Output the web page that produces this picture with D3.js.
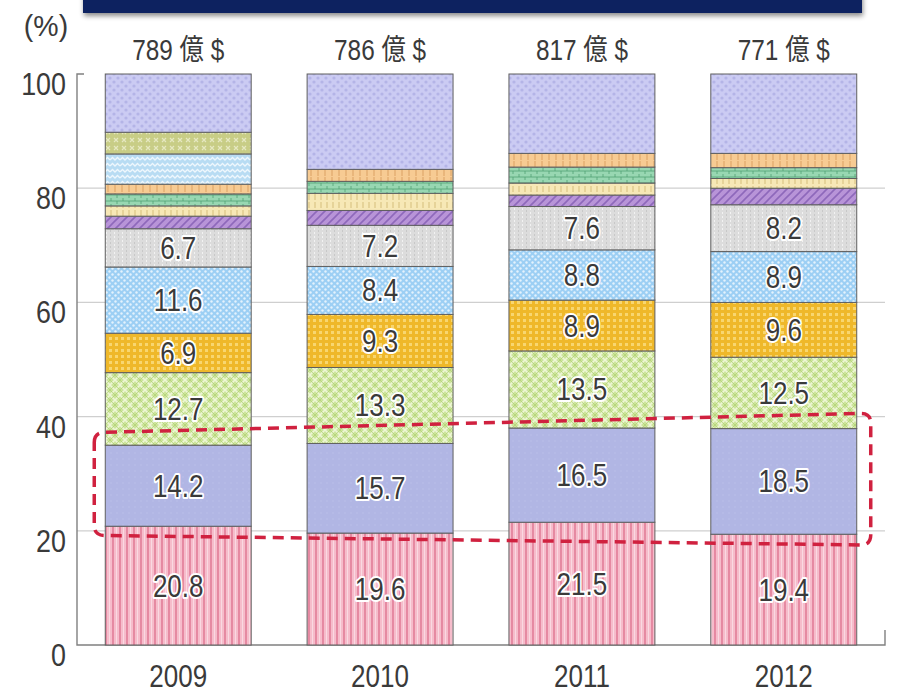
<!DOCTYPE html>
<meta charset="utf-8">
<head>
    <title></title>
    <script src="https://cdn.jsdelivr.net/npm/d3@7"></script>
</head>
<style>
    body{ margin:0; background:#fff; }
    text{
      font-family: "Liberation Sans", "Noto Sans CJK JP", sans-serif;
      fill:#3a3a3a;
    }
</style>
<svg width="897" height="693"></svg>
<script>
    // data (share in %, bottom to top)
    var years = ['2009','2010','2011','2012'];
    var totals = ['789 億 $','786 億 $','817 億 $','771 億 $'];
    var yTicks = [0,20,40,60,80,100];

    var pink       = [20.8,19.6,21.5,19.4];
    var periwinkle = [14.2,15.7,16.5,18.5];
    var green      = [12.7,13.3,13.5,12.5];
    var gold       = [6.9,9.3,8.9,9.6];
    var skyBlue    = [11.6,8.4,8.8,8.9];
    var grey       = [6.7,7.2,7.6,8.2];
    var purple     = [2.2,2.6,2.0,2.9];
    var cream      = [1.8,3.0,2.1,1.7];
    var mint       = [2.1,2.1,2.8,1.9];
    var peach      = [1.7,2.1,2.4,2.5];
    var wavyBlue   = [5.3,0,0,0];
    var olive      = [3.8,0,0,0];
    var lavender   = [10.2,16.7,13.9,13.9];

    // dashed highlight box (values at left / right end)
    var boxTop = [37.2,40.6],
        boxBottom = [19.2,17.5];

    var series = [
        {key:'pink', values:pink, label:true},
        {key:'periwinkle', values:periwinkle, label:true},
        {key:'green', values:green, label:true},
        {key:'gold', values:gold, label:true},
        {key:'skyBlue', values:skyBlue, label:true},
        {key:'grey', values:grey, label:true},
        {key:'purple', values:purple},
        {key:'cream', values:cream},
        {key:'mint', values:mint},
        {key:'peach', values:peach},
        {key:'wavyBlue', values:wavyBlue},
        {key:'olive', values:olive},
        {key:'lavender', values:lavender}
    ];

    var table = years.map(function(y,i){
        var row = {year:y};
        series.forEach(function(s){ row[s.key] = s.values[i]; });
        return row;
    });

    var svg = d3.select('svg');
    var defs = svg.append('defs');
    var narrow = 0.84;   // condensed look of the original font

    function place(px, py){ return 'translate(' + px + ',' + py + ') scale(' + narrow + ',1)'; }

    // fill patterns
    function pat(id, w, h, bg, draw){
        var p = defs.append('pattern').attr('id', id)
            .attr('patternUnits','userSpaceOnUse').attr('width', w).attr('height', h);
        p.append('rect').attr('width', w).attr('height', h).attr('fill', bg);
        draw(p);
    }
    pat('pink', 7, 10, '#f6bccb', function(p){
        p.append('line').attr('x1',1).attr('x2',1).attr('y1',0).attr('y2',10).attr('stroke','#df7491').attr('stroke-width',1.4);
        p.append('line').attr('x1',4.5).attr('x2',4.5).attr('y1',0).attr('y2',10).attr('stroke','#fbe1e8').attr('stroke-width',0.8);
    });
    pat('periwinkle', 6, 6, '#b1b6e4', function(p){
        p.append('circle').attr('cx',3).attr('cy',3).attr('r',0.8).attr('fill','#bbc0ea');
    });
    pat('green', 10, 10, '#cde59c', function(p){
        p.append('path').attr('d','M0,5 L5,0 L10,5 L5,10 Z').attr('fill','none').attr('stroke','#eef6d6').attr('stroke-width',1.6);
        p.append('path').attr('d','M0,0 L10,10 M10,0 L0,10').attr('stroke','#a8cc68').attr('stroke-width',0.6);
    });
    pat('gold', 6, 6, '#efb82a', function(p){
        p.append('rect').attr('x',1).attr('y',1).attr('width',3).attr('height',3).attr('fill','#f8d670');
    });
    pat('skyBlue', 6, 6, '#9ccff4', function(p){
        p.append('circle').attr('cx',1.5).attr('cy',1.5).attr('r',1.2).attr('fill','#e3f2fd');
        p.append('circle').attr('cx',4.5).attr('cy',4.5).attr('r',1.2).attr('fill','#e3f2fd');
    });
    pat('grey', 8, 4, '#dcdcdc', function(p){
        p.append('rect').attr('x',2).attr('y',0).attr('width',1).attr('height',2).attr('fill','#f2f2f2');
        p.append('rect').attr('x',6).attr('y',2).attr('width',1).attr('height',2).attr('fill','#c8c8c8');
    });
    pat('purple', 8, 8, '#b894d8', function(p){
        p.append('path').attr('d','M-2,10 L10,-2 M-2,2 L2,-2 M6,10 L10,6').attr('stroke','#8e68bb').attr('stroke-width',1.6);
    });
    pat('cream', 6, 8, '#f7e8b6', function(p){
        p.append('line').attr('x1',3).attr('x2',3).attr('y1',2).attr('y2',8).attr('stroke','#d6bf7c').attr('stroke-width',1);
    });
    pat('mint', 12, 6, '#98d7b2', function(p){
        p.append('path').attr('d','M0,3 H12 M3,0 V3 M9,3 V6').attr('stroke','#4f9f73').attr('stroke-width',0.8);
    });
    pat('peach', 7, 8, '#f7cb93', function(p){
        p.append('line').attr('x1',3).attr('x2',3).attr('y1',1).attr('y2',8).attr('stroke','#dca263').attr('stroke-width',1);
    });
    pat('wavyBlue', 10, 6, '#b8dcf3', function(p){
        p.append('path').attr('d','M0,4 L2.5,1.5 L5,4 L7.5,1.5 L10,4').attr('fill','none').attr('stroke','#eef7fd').attr('stroke-width',1.4);
    });
    pat('olive', 8, 8, '#c8cd86', function(p){
        p.append('path').attr('d','M2,2 L6,6 M6,2 L2,6').attr('stroke','#e6e8c1').attr('stroke-width',1.2);
    });
    pat('lavender', 8, 8, '#cbcbf3', function(p){
        p.append('circle').attr('cx',2).attr('cy',2).attr('r',1.6).attr('fill','#b4b4e7');
        p.append('circle').attr('cx',6).attr('cy',6).attr('r',1.6).attr('fill','#b4b4e7');
    });

    var shadow = defs.append('filter').attr('id','shadow').attr('x','-5%').attr('y','-50%').attr('width','110%').attr('height','250%');
    shadow.append('feDropShadow').attr('dx',1).attr('dy',3).attr('stdDeviation',2.5).attr('flood-color','#000').attr('flood-opacity',0.45);

    var x = d3.scaleBand().domain(years).range([77,885]).paddingInner(0.277).paddingOuter(0.14);
    var y = d3.scaleLinear().domain([0,100]).range([645,74]);

    // title banner (cut off at top)
    svg.append('rect').attr('x',83).attr('y',-10).attr('width',779).attr('height',23)
        .attr('fill','#0c2361').attr('filter','url(#shadow)');

    // grid
    svg.append('g').selectAll('line').data(yTicks.filter(function(d){ return d > 0 && d < 100; }))
        .enter().append('line')
        .attr('x1',77).attr('x2',885)
        .attr('y1',function(d){ return y(d); }).attr('y2',function(d){ return y(d); })
        .attr('stroke','#cfcfcf').attr('stroke-width',1.2);

    // axes
    svg.append('path').attr('d','M84,'+y(100)+' H77 V'+y(0)+' H885 V'+(y(0)-15))
        .attr('fill','none').attr('stroke','#808080').attr('stroke-width',1.4);

    svg.append('g').selectAll('text').data(yTicks).enter().append('text')
        .attr('transform',function(d){ return place(66, y(d) + 21); })
        .attr('text-anchor','end')
        .style('font-size','32px')
        .text(function(d){ return d; });

    svg.append('text').attr('transform','translate(46,36) scale(0.95,1)')
        .attr('text-anchor','middle').style('font-size','30px').text('(%)');

    svg.append('g').selectAll('text').data(years).enter().append('text')
        .attr('transform',function(d){ return place(x(d) + x.bandwidth()/2, 687); })
        .attr('text-anchor','middle').style('font-size','31px')
        .text(function(d){ return d; });

    svg.append('g').selectAll('text').data(totals).enter().append('text')
        .attr('transform',function(d,i){ return place(x(years[i]) + x.bandwidth()/2, 60); })
        .attr('text-anchor','middle').style('font-size','29px')
        .text(function(d){ return d; });

    // stacked bars
    var stack = d3.stack().keys(series.map(function(s){ return s.key; }));
    var layers = stack(table);

    var layerG = svg.append('g').selectAll('g').data(layers).enter().append('g')
        .attr('fill',function(d){ return 'url(#' + d.key + ')'; });

    layerG.selectAll('rect').data(function(d){ return d.filter(function(v){ return v[1] - v[0] > 0; }); })
        .enter().append('rect')
        .attr('x',function(d){ return x(d.data.year); })
        .attr('width',x.bandwidth())
        .attr('y',function(d){ return y(d[1]); })
        .attr('height',function(d){ return y(d[0]) - y(d[1]); })
        .attr('stroke','#5f5f5f').attr('stroke-width',1);

    // value labels
    var fmt = d3.format('.1f');
    var labelled = layers.filter(function(l,i){ return series[i].label; });
    svg.append('g').selectAll('g').data(labelled).enter().append('g')
        .selectAll('text').data(function(d){ return d; }).enter().append('text')
        .attr('transform',function(d){ return place(x(d.data.year) + x.bandwidth()/2, y((d[0] + d[1]) / 2) + 11); })
        .attr('text-anchor','middle')
        .style('font-size','31px')
        .style('paint-order','stroke').style('stroke','#fff').style('stroke-width','4px')
        .style('stroke-linejoin','round')
        .text(function(d){ return fmt(d[1] - d[0]); });

    // dashed highlight box around the 2nd segment
    var xl = x(years[0]) - 11,
        xr = x(years[3]) + x.bandwidth() + 14,
        tl = [xl, y(boxTop[0])], tr = [xr, y(boxTop[1])],
        br = [xr, y(boxBottom[1])], bl = [xl, y(boxBottom[0])];
    function roundBox(pts, r){
        var p = d3.path(), n = pts.length;
        function toward(a, b){
            var dx = b[0]-a[0], dy = b[1]-a[1], len = Math.sqrt(dx*dx+dy*dy);
            return [a[0] + dx/len*r, a[1] + dy/len*r];
        }
        for(var i = 0; i < n; i++){
            var prev = pts[(i+n-1)%n], cur = pts[i], next = pts[(i+1)%n];
            var a = toward(cur, prev), b = toward(cur, next);
            if(i == 0) p.moveTo(a[0], a[1]); else p.lineTo(a[0], a[1]);
            p.quadraticCurveTo(cur[0], cur[1], b[0], b[1]);
        }
        p.closePath();
        return p.toString();
    }
    svg.append('path').attr('d', roundBox([tl,tr,br,bl], 10))
        .attr('fill','none').attr('stroke','#d0213f').attr('stroke-width',3.5)
        .attr('stroke-dasharray','11,7');
</script>
